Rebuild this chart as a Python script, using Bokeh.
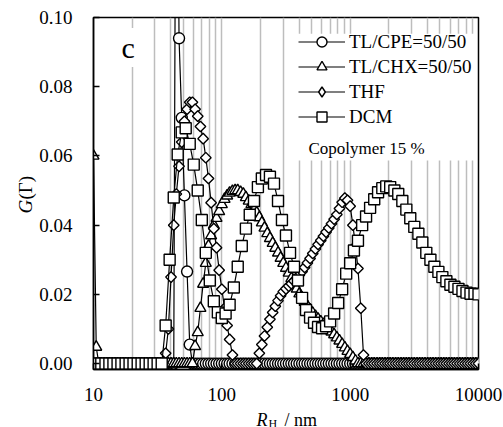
import math
from bokeh.plotting import figure
from bokeh.models import (Range1d, FixedTicker, PrintfTickFormatter, Legend, LegendItem,
                          Label, BoxAnnotation, ColumnDataSource)
from bokeh.embed import file_html
from bokeh.resources import INLINE

# ---------------- data ----------------
# hydrodynamic radius grid (nm) used by TL/CPE, TL/CHX and THF
RH_FINE = [10.0, 10.5, 11.0, 11.5, 12.1, 12.7, 13.3, 14.0, 14.7, 15.4, 16.2, 17.0, 17.8, 18.7, 19.6, 20.5,
           21.5, 22.6, 23.7, 24.9, 26.1, 27.4, 28.7, 30.1, 31.6, 33.2, 34.8, 36.5, 38.3, 40.2, 42.2, 44.2,
           46.4, 48.7, 51.1, 53.6, 56.2, 59.0, 61.9, 64.9, 68.1, 71.5, 75.0, 78.7, 82.5, 86.6, 90.9, 95.3,
           100, 105, 110, 115, 121, 127, 133, 140, 147, 154, 162, 170, 178, 187, 196, 205,
           215, 226, 237, 249, 261, 274, 287, 301, 316, 332, 348, 365, 383, 402, 422, 442,
           464, 487, 511, 536, 562, 590, 619, 649, 681, 715, 750, 787, 825, 866, 909, 953,
           1000, 1050, 1100, 1150, 1210, 1270, 1330, 1400, 1470, 1540, 1620, 1700, 1780, 1870, 1960, 2050,
           2150, 2260, 2370, 2490, 2610, 2740, 2870, 3010, 3160, 3320, 3480, 3650, 3830, 4020, 4220, 4420,
           4640, 4870, 5110, 5360, 5620, 5900, 6190, 6490, 6810, 7150, 7500, 7870, 8250, 8660, 9090, 9530,
           10000]

# hydrodynamic radius grid (nm) used by DCM
RH_DCM = [10.0, 10.7, 11.5, 12.4, 13.3, 14.3, 15.4, 16.5, 17.8, 19.1, 20.5, 22.1, 23.7, 25.5, 27.4, 29.4,
          31.6, 34.0, 36.5, 39.2, 42.2, 45.3, 48.7, 52.3, 56.2, 60.4, 64.9, 69.8, 75.0, 80.6, 86.6, 93.1,
          100, 107, 115, 124, 133, 143, 154, 165, 178, 191, 205, 221, 237, 255, 274, 294,
          316, 340, 365, 392, 422, 453, 487, 523, 562, 604, 649, 698, 750, 806, 866, 931,
          1000, 1070, 1150, 1240, 1330, 1430, 1540, 1650, 1780, 1910, 2050, 2210, 2370, 2550, 2740, 2940,
          3160, 3400, 3650, 3920, 4220, 4530, 4870, 5230, 5620, 6040, 6490, 6980, 7500, 8060, 8660, 9310,
          10000]

G_CPE = ([0.0] * 31
         + [0.20, 0.094, 0.071, 0.0486, 0.0266, 0.0055]
         + [0.0] * 108)

G_CHX = ([0.060, 0.0048]
         + [0.0] * 36
         + [0.005, 0.009, 0.016, 0.023, 0.029, 0.034, 0.037, 0.040, 0.042, 0.044, 0.046, 0.0475,
            0.0485, 0.0493, 0.0498, 0.0500, 0.0500, 0.0495, 0.0490, 0.0480, 0.0470, 0.0460, 0.0448,
            0.0436, 0.0422, 0.0407, 0.0392, 0.0376, 0.0362, 0.0348, 0.0334, 0.0320, 0.0305, 0.0290,
            0.0276, 0.0262, 0.0246, 0.0230, 0.0216, 0.0202, 0.0190, 0.0178, 0.0166, 0.0156, 0.0146,
            0.0137, 0.0129, 0.0121, 0.0114, 0.0107, 0.0100, 0.0092, 0.0084, 0.0075, 0.0066, 0.0056,
            0.0046, 0.0036, 0.0027, 0.0018, 0.0008]
         + [0.0] * 46)

G_THF = ([0.0] * 27
         + [0.003, 0.010, 0.025, 0.040, 0.049, 0.057, 0.064, 0.070, 0.0735, 0.0755, 0.0755, 0.0735,
            0.0715, 0.0685, 0.065, 0.0595, 0.0535, 0.0465, 0.039, 0.0335, 0.027, 0.0215, 0.016,
            0.011, 0.007, 0.0025]
         + [0.0] * 9
         + [0.003, 0.0055, 0.008, 0.0105, 0.0128, 0.0148, 0.0166, 0.0182, 0.0196, 0.0208, 0.0216,
            0.0224, 0.0231, 0.0239, 0.0247, 0.0256, 0.0266, 0.0278, 0.0291, 0.0304, 0.0318, 0.0331,
            0.0344, 0.0356, 0.0368, 0.0380, 0.0392, 0.0404, 0.0417, 0.0431, 0.0448, 0.0466, 0.0478,
            0.0472, 0.0455, 0.040, 0.034, 0.0275, 0.016, 0.0025]
         + [0.0] * 43)

G_DCM = ([0.0] * 18
         + [0.011, 0.030, 0.048, 0.0604, 0.0668, 0.068, 0.0635, 0.0575, 0.050, 0.0415, 0.032, 0.024,
            0.018, 0.0148, 0.0132, 0.0145, 0.017, 0.022, 0.028, 0.034, 0.039, 0.043, 0.047, 0.051,
            0.0535, 0.0545, 0.054, 0.052, 0.047, 0.0415, 0.037, 0.032, 0.028, 0.024, 0.019, 0.0155,
            0.0133, 0.0118, 0.0106, 0.0102, 0.0108, 0.0122, 0.0145, 0.0175, 0.0215, 0.026, 0.029,
            0.0327, 0.0355, 0.040, 0.0425, 0.045, 0.0475, 0.0495, 0.0507, 0.0512, 0.051, 0.050,
            0.049, 0.047, 0.0445, 0.042, 0.0395, 0.0375, 0.035, 0.032, 0.030, 0.028, 0.0265, 0.025,
            0.0238, 0.0228, 0.0222, 0.0216, 0.021, 0.0205, 0.0202, 0.0202, 0.020])

SERIES_NAMES = ["TL/CPE=50/50", "TL/CHX=50/50", "THF", "DCM"]
X_MAJOR = [10, 100, 1000, 10000]
X_MINOR = [20, 30, 40, 50, 60, 70, 80, 90,
           200, 300, 400, 500, 600, 700, 800, 900,
           2000, 3000, 4000, 5000, 6000, 7000, 8000, 9000]
Y_TICKS = [0.0, 0.02, 0.04, 0.06, 0.08, 0.10]

assert len(RH_FINE) == 145 and len(RH_DCM) == 97
assert len(G_CPE) == 145 and len(G_CHX) == 145 and len(G_THF) == 145 and len(G_DCM) == 97

# ---------------- figure ----------------
FONT = "Liberation Serif"
BLACK = "black"
GRID = "#bdbdbd"

p = figure(width=503, height=427, x_axis_type="log",
           x_range=Range1d(10, 10000), y_range=Range1d(-0.0017, 0.1),
           output_backend="svg", toolbar_location=None,
           min_border_left=93, min_border_right=25, min_border_top=17, min_border_bottom=58)
p.background_fill_color = "white"
p.border_fill_color = "white"
p.outline_line_color = BLACK
p.outline_line_width = 1.5

xt = FixedTicker(ticks=X_MAJOR, minor_ticks=X_MINOR)
p.xaxis.ticker = xt
p.xgrid.ticker = xt
p.xaxis.formatter = PrintfTickFormatter(format="%d")
p.yaxis.ticker = FixedTicker(ticks=Y_TICKS)
p.yaxis.formatter = PrintfTickFormatter(format="%.2f")
p.ygrid.grid_line_color = None
p.xgrid.grid_line_color = GRID
p.xgrid.grid_line_width = 1.5
p.xgrid.minor_grid_line_color = GRID
p.xgrid.minor_grid_line_width = 1.5

for ax in (p.xaxis, p.yaxis):
    ax.axis_line_color = BLACK
    ax.axis_line_width = 1.5
    ax.major_tick_line_color = BLACK
    ax.major_tick_line_width = 1.5
    ax.major_tick_in = 6
    ax.major_tick_out = 0
    ax.minor_tick_line_color = None
    ax.major_label_text_font = FONT
    ax.major_label_text_font_size = "19px"
    ax.major_label_text_color = BLACK
p.yaxis.major_label_standoff = 21
p.xaxis.major_label_standoff = 14

# white box behind the legend block
p.add_layout(BoxAnnotation(left=382, right=9650, bottom=0.0587, top=0.0953,
                           fill_color="white", fill_alpha=1.0, line_color=None, level="underlay"))

def add_series(xs, ys, marker, size, angle=0.0):
    src = ColumnDataSource(data=dict(x=xs, y=ys))
    ln = p.line("x", "y", source=src, line_color=BLACK, line_width=1.2)
    sc = p.scatter("x", "y", source=src, marker=marker, size=size, angle=angle,
                   fill_color="white", line_color=BLACK, line_width=1.4)
    return ln, sc

l1, s1 = add_series(RH_FINE, G_CPE, "circle", 11)
l2, s2 = add_series(RH_FINE, G_CHX, "triangle", 11)
l3, s3 = add_series(RH_FINE, G_THF, "square", 7.5, angle=math.pi / 4)
l4, s4 = add_series(RH_DCM, G_DCM, "square", 11)

# legend symbol for THF (diamond, not plotted)
leg_src = ColumnDataSource(data=dict(x=[float("nan")], y=[float("nan")]))
s3_leg = p.scatter("x", "y", source=leg_src, marker="diamond", size=11,
                   fill_color="white", line_color=BLACK, line_width=1.4)

legend = Legend(items=[LegendItem(label=SERIES_NAMES[0], renderers=[l1, s1]),
                       LegendItem(label=SERIES_NAMES[1], renderers=[l2, s2]),
                       LegendItem(label=SERIES_NAMES[2], renderers=[l3, s3_leg]),
                       LegendItem(label=SERIES_NAMES[3], renderers=[l4, s4])],
                location=(205, 240), glyph_width=47, glyph_height=25, label_height=25,
                spacing=0, padding=0, margin=0, label_standoff=4,
                label_text_font=FONT, label_text_font_size="19px", label_text_color=BLACK,
                background_fill_alpha=0.0, border_line_color=None)
p.add_layout(legend)

def lab(text, dx, dy, size, style="normal", angle=0.0, side=None, **kw):
    lb = Label(x=10, y=0, x_offset=dx, y_offset=dy, text=text, text_font=FONT,
               text_font_size=size, text_font_style=style, text_color=BLACK,
               text_align="left", text_baseline="alphabetic", angle=angle, **kw)
    if side is None:
        p.add_layout(lb)
    else:
        p.add_layout(lb, side)

lab("Copolymer 15 %", 215, 215, "17px")
lab("c", 25, 316, "30px", background_fill_color="white", padding=3)
# axis titles, placed in the border panels so they are not clipped; each
# panel is chosen so that it stays within its border size
lab("R", 163, -56, "18px", style="italic", side="left")        # R_H / nm
lab("H", 175, -60, "12px", side="above")
lab("/ nm", 191, -56, "18px", side="below")
lab("G", -68, 150, "19px", style="italic", angle=math.pi / 2, side="left")   # G(Γ)
lab("(Γ)", -68, 164, "19px", angle=math.pi / 2, side="right")

open("out.html", "w").write(file_html(p, INLINE))
